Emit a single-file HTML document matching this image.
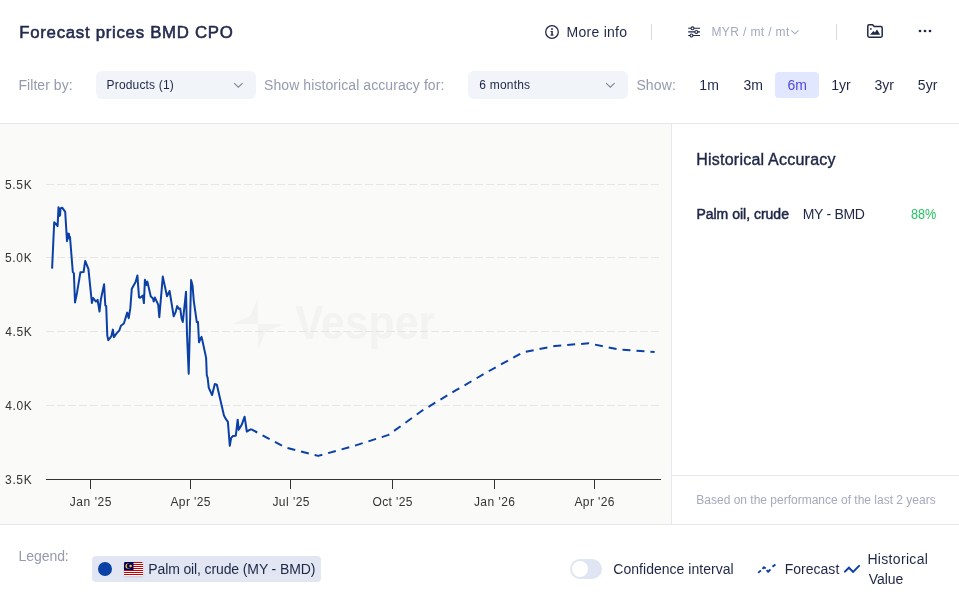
<!DOCTYPE html>
<html lang="en">
<head>
<meta charset="utf-8">
<title>Forecast prices BMD CPO</title>
<style>
html,body{margin:0;padding:0;}
body{width:959px;height:595px;position:relative;overflow:hidden;background:#ffffff;font-family:"Liberation Sans",sans-serif;}
.t{position:absolute;white-space:nowrap;line-height:1;}
.abs{position:absolute;}
.sel{position:absolute;background:#f1f4f9;border-radius:6px;}
.vdiv{position:absolute;width:1px;background:#d5d9e4;}
</style>
</head>
<body>
<!-- header -->
<div class="abs" style="left:0;top:123px;width:959px;height:1px;background:#e6e8ee;"></div>
<!-- chart area background -->
<div class="abs" style="left:0;top:124px;width:671px;height:400px;background:#fafaf8;"></div>
<div class="abs" style="left:671px;top:124px;width:1px;height:400px;background:#e6e8ee;"></div>
<div class="abs" style="left:672px;top:475px;width:287px;height:1px;background:#e6e8ee;"></div>
<div class="abs" style="left:0;top:524px;width:959px;height:1px;background:#e6e8ee;"></div>

<!-- selects -->
<div class="sel" style="left:96px;top:71px;width:160px;height:28px;"></div>
<div class="sel" style="left:468px;top:71px;width:160px;height:28px;"></div>
<svg class="abs" style="left:232px;top:80px;" width="12" height="12" viewBox="0 0 12 12"><path d="M2.1 3.1 L6.35 7.2 L10.6 3.1" fill="none" stroke="#7e8499" stroke-width="1.1"/></svg>
<svg class="abs" style="left:604px;top:80px;" width="12" height="12" viewBox="0 0 12 12"><path d="M2.1 3.1 L6.35 7.2 L10.6 3.1" fill="none" stroke="#7e8499" stroke-width="1.1"/></svg>
<!-- active range button -->
<div class="abs" style="left:775px;top:72px;width:44px;height:26px;background:#e0e7ff;border-radius:4px;"></div>

<!-- header icons -->
<svg class="abs" style="left:544px;top:24px;" width="16" height="16" viewBox="0 0 16 16"><circle cx="8" cy="8" r="6.3" fill="none" stroke="#1f2747" stroke-width="1.3"/><rect x="7.3" y="7" width="1.5" height="4.2" fill="#1f2747"/><rect x="6.6" y="7" width="1.6" height="1" fill="#1f2747"/><rect x="6.4" y="10.6" width="3.2" height="1" fill="#1f2747"/><circle cx="8" cy="5" r="0.95" fill="#1f2747"/></svg>
<div class="vdiv" style="left:651px;top:24px;height:16px;"></div>
<svg class="abs" style="left:686px;top:25px;" width="15" height="14" viewBox="0 0 15 14"><g fill="none" stroke="#1f2747" stroke-width="1.1"><path d="M2.2 3.3H14M2.2 6.9H14M2.2 10.5H14"/><circle cx="6.5" cy="3.3" r="1.45" fill="#fff"/><circle cx="10.3" cy="6.9" r="1.45" fill="#fff"/><circle cx="5.5" cy="10.5" r="1.45" fill="#fff"/></g></svg>
<svg class="abs" style="left:790px;top:27px;" width="10" height="10" viewBox="0 0 10 10"><path d="M1.3 3.3 L4.9 6.8 L8.5 3.3" fill="none" stroke="#a3a9be" stroke-width="1.1"/></svg>
<div class="vdiv" style="left:836px;top:24px;height:16px;"></div>
<svg class="abs" style="left:866px;top:23px;" width="18" height="16" viewBox="0 0 18 16"><path d="M1.8 3.2 Q1.8 1.8 3.2 1.8 H6.6 L8.2 3.6 H14.8 Q16.2 3.6 16.2 5 V12.8 Q16.2 14.2 14.8 14.2 H3.2 Q1.8 14.2 1.8 12.8 Z" fill="none" stroke="#1f2747" stroke-width="1.5" stroke-linejoin="round"/><path d="M4 11.8 L7.4 8 L8.9 9.6 L11 6.4 L14.2 11.8 Z" fill="#1f2747"/><circle cx="4.9" cy="5.9" r="0.85" fill="#1f2747"/></svg>
<svg class="abs" style="left:917px;top:28px;" width="16" height="6" viewBox="0 0 16 6"><circle cx="3" cy="3" r="1.35" fill="#1f2747"/><circle cx="8" cy="3" r="1.35" fill="#1f2747"/><circle cx="13" cy="3" r="1.35" fill="#1f2747"/></svg>

<!-- chart -->
<span id="wm" class="t" style="left:295.00px;top:298.00px;font-size:49px;font-weight:700;color:#f3f3f1;letter-spacing:0.000px;transform:scaleX(0.8710);transform-origin:0 0;">Vesper</span>
<svg class="abs" style="left:0;top:124px;" width="671" height="400" viewBox="0 124 671 400">
<path d="M257.8 298.5 L250.3 315.9 L232.6 323.9 L258 323.9 Z M258 324 L283.2 324 L265.6 331.8 L258.2 349.4 Z" fill="#f3f3f1"/>
<path d="M46 184.5 H659" stroke="#e6e6e6" stroke-width="1" stroke-dasharray="8 3" fill="none"/>
<path d="M46 257.5 H659" stroke="#e6e6e6" stroke-width="1" stroke-dasharray="8 3" fill="none"/>
<path d="M46 331.5 H659" stroke="#e6e6e6" stroke-width="1" stroke-dasharray="8 3" fill="none"/>
<path d="M46 405.5 H659" stroke="#e6e6e6" stroke-width="1" stroke-dasharray="8 3" fill="none"/>
<path d="M46 479.5 H661" stroke="#333333" stroke-width="1" fill="none"/>
<path d="M90.5 479 V489" stroke="#333333" stroke-width="1" fill="none"/>
<path d="M190.5 479 V489" stroke="#333333" stroke-width="1" fill="none"/>
<path d="M290.5 479 V489" stroke="#333333" stroke-width="1" fill="none"/>
<path d="M392.5 479 V489" stroke="#333333" stroke-width="1" fill="none"/>
<path d="M494.5 479 V489" stroke="#333333" stroke-width="1" fill="none"/>
<path d="M594.5 479 V489" stroke="#333333" stroke-width="1" fill="none"/>
<polyline points="52.1,268.6 54.2,222.3 57.6,226 58.5,207.2 59.5,216 60.1,215.1 60.5,208.4 62.2,207.7 65.2,211.8 67,241.2 68.1,233.6 69,234 69.4,238.7 70,237 72.8,272 73.9,273.4 75,302.5 77.1,292.2 80.4,272.3 83.6,272 85.2,261 88.4,268.8 91.9,303 93,298 96,301.6 97.6,299.8 99.5,311.6 100.8,299.8 104.1,284.2 105.3,305.4 106.2,306.1 107.3,335.6 108.3,340.2 111.3,336.4 112.9,329.6 113.9,337.2 116.6,333.4 119.4,330.3 120.9,325.8 123.9,323.5 127.2,312.6 128.7,318.2 130.3,308.4 131.8,288.7 135.6,281.9 137.4,275.4 139,297.1 140.1,297.8 142.8,295.6 143.9,303.1 144.9,279.7 146.4,285 147.4,281.6 150.7,296.3 153,298.6 153.7,301.6 154.8,297.5 158.2,304.6 159.3,317.2 162.8,276.6 167,296.3 169.6,291 173.7,316.3 175.6,312.2 177.2,306.1 178.7,308.7 180.2,308.4 181.7,319 182.8,322 186,291.8 187,333.9 188.7,373.8 191.1,280.1 192.6,286 193.8,301.1 196.8,322.1 198,322.1 199,342.3 200.5,338.6 201.5,336.9 202.4,340.6 206.1,357.6 206.8,375.2 207.6,377.7 208.8,387.8 212.1,395 214.8,384 216.8,384.6 223.9,415.2 225.3,418.1 227.9,421.9 229.8,445.8 231.1,438.2 232.8,436.1 235.8,435.7 237.7,419.7 238.7,429.8 241.7,424.8 244.6,416.7 246.8,431.5 251.1,429.2" fill="none" stroke="#0b40a7" stroke-width="2" stroke-linejoin="round" stroke-linecap="butt"/>
<polyline points="251.1,429.2 285,447.3 318.3,455.9 355,445.6 388.6,434.9 422.6,410.3 456,390.2 490,370.5 522.7,352.4 555,345.9 588.7,343.3 617.5,349.3 654.6,352.1" fill="none" stroke="#0b40a7" stroke-width="2" stroke-dasharray="8 6" stroke-dashoffset="1" stroke-linejoin="round"/>
</svg>

<!-- legend chip -->
<div class="abs" style="left:92px;top:556px;width:229px;height:26px;background:#e1e6f2;border-radius:4px;"></div>
<div class="abs" style="left:98px;top:562px;width:14px;height:14px;border-radius:50%;background:#0b40a7;"></div>
<svg class="abs" style="left:124px;top:562px;border-radius:1.5px;box-shadow:0 1px 2px rgba(60,70,100,0.18);" width="19" height="14" viewBox="0 0 19 14">
<rect width="19" height="14" fill="#fff"/>
<g fill="#cc0001"><rect y="0" width="19" height="1"/><rect y="2" width="19" height="1"/><rect y="4" width="19" height="1"/><rect y="6" width="19" height="1"/><rect y="8" width="19" height="1"/><rect y="10" width="19" height="1"/><rect y="12" width="19" height="1"/></g>
<rect width="9.5" height="8" fill="#010066"/>
<circle cx="4" cy="4" r="2.6" fill="#ffcc00"/><circle cx="4.9" cy="4" r="2.2" fill="#010066"/>
<circle cx="6.6" cy="4" r="1.3" fill="#ffcc00"/>
</svg>

<!-- toggle -->
<div class="abs" style="left:570px;top:559px;width:32px;height:20px;border-radius:10px;background:#dfe5f2;"></div>
<div class="abs" style="left:572px;top:561px;width:16px;height:16px;border-radius:50%;background:#ffffff;"></div>

<!-- forecast / historical icons -->
<svg class="abs" style="left:752px;top:556px;" width="30" height="26" viewBox="752 556 30 26"><g fill="none" stroke="#0b40a7" stroke-width="1.9" stroke-linecap="butt" stroke-linejoin="round"><path d="M758.2 572.9 L760.9 570.4"/><path d="M762.5 568.9 L764 567.2 L765.7 568.6"/><path d="M766.6 570.2 L768.2 571.8 L770.4 569.3"/><path d="M772.4 566.8 L775.4 564.4"/></g></svg>
<svg class="abs" style="left:838px;top:556px;" width="30" height="26" viewBox="838 556 30 26"><path d="M844.9 571.6 L848.9 567.7 L853.1 571.9 L859.1 565.9" fill="none" stroke="#0b40a7" stroke-width="2" stroke-linecap="round" stroke-linejoin="miter"/></svg>

<span id="t_title" class="t" style="left:19.29px;top:25.00px;font-size:16.8px;font-weight:400;color:#222a4e;letter-spacing:0.720px;-webkit-text-stroke:0.55px #222a4e;">Forecast prices BMD CPO</span>
<span id="t_more" class="t" style="left:566.58px;top:25.00px;font-size:14px;font-weight:400;color:#1f2747;letter-spacing:0.262px;">More info</span>
<span id="t_myr" class="t" style="left:711.50px;top:26.00px;font-size:12px;font-weight:400;color:#a3a9be;letter-spacing:0.371px;">MYR / mt / mt</span>
<span id="t_filter" class="t" style="left:18.51px;top:78.00px;font-size:14px;font-weight:400;color:#959aaf;letter-spacing:0.044px;">Filter by:</span>
<span id="t_prod" class="t" style="left:106.60px;top:79.00px;font-size:12px;font-weight:400;color:#1f2747;letter-spacing:0.166px;">Products (1)</span>
<span id="t_showh" class="t" style="left:264.08px;top:78.00px;font-size:14px;font-weight:400;color:#959aaf;letter-spacing:0.075px;">Show historical accuracy for:</span>
<span id="t_6mo" class="t" style="left:479.27px;top:79.00px;font-size:12px;font-weight:400;color:#1f2747;letter-spacing:0.210px;">6 months</span>
<span id="t_show" class="t" style="left:636.39px;top:78.00px;font-size:14px;font-weight:400;color:#959aaf;letter-spacing:0.140px;">Show:</span>
<span id="t_1m" class="t" style="left:699.37px;top:78.00px;font-size:14px;font-weight:400;color:#1f2747;letter-spacing:0.000px;">1m</span>
<span id="t_3m" class="t" style="left:743.42px;top:78.00px;font-size:14px;font-weight:400;color:#1f2747;letter-spacing:0.000px;">3m</span>
<span id="t_6m" class="t" style="left:787.42px;top:78.00px;font-size:14px;font-weight:400;color:#5046e5;letter-spacing:0.000px;">6m</span>
<span id="t_1yr" class="t" style="left:831.32px;top:78.00px;font-size:14px;font-weight:400;color:#1f2747;letter-spacing:0.000px;">1yr</span>
<span id="t_3yr" class="t" style="left:874.42px;top:78.00px;font-size:14px;font-weight:400;color:#1f2747;letter-spacing:0.000px;">3yr</span>
<span id="t_5yr" class="t" style="left:917.87px;top:78.00px;font-size:14px;font-weight:400;color:#1f2747;letter-spacing:0.000px;">5yr</span>
<span id="t_ha" class="t" style="left:696.26px;top:152.00px;font-size:16px;font-weight:400;color:#1f2747;letter-spacing:0.227px;-webkit-text-stroke:0.4px #1f2747;">Historical Accuracy</span>
<span id="t_palm" class="t" style="left:696.38px;top:207.00px;font-size:14px;font-weight:400;color:#1f2747;letter-spacing:-0.004px;-webkit-text-stroke:0.5px #1f2747;">Palm oil, crude</span>
<span id="t_mybmd" class="t" style="left:802.74px;top:207.00px;font-size:14px;font-weight:400;color:#1f2747;letter-spacing:-0.309px;">MY - BMD</span>
<span id="t_88" class="t" style="left:911.40px;top:207.00px;font-size:14px;font-weight:400;color:#27c461;letter-spacing:0.000px;transform:scaleX(0.9026);transform-origin:0 0;">88%</span>
<span id="t_based" class="t" style="left:696.34px;top:494.00px;font-size:12px;font-weight:400;color:#a5aabb;letter-spacing:-0.003px;">Based on the performance of the last 2 years</span>
<span id="t_legend" class="t" style="left:18.51px;top:549.00px;font-size:14px;font-weight:400;color:#959aaf;letter-spacing:-0.060px;">Legend:</span>
<span id="t_chip" class="t" style="left:148.27px;top:562.00px;font-size:14px;font-weight:400;color:#1f2747;letter-spacing:-0.122px;">Palm oil, crude (MY - BMD)</span>
<span id="t_conf" class="t" style="left:613.36px;top:562.00px;font-size:14px;font-weight:400;color:#1f2747;letter-spacing:0.021px;">Confidence interval</span>
<span id="t_fore" class="t" style="left:784.74px;top:562.00px;font-size:14px;font-weight:400;color:#1f2747;letter-spacing:0.010px;">Forecast</span>
<span id="t_hist" class="t" style="left:867.43px;top:552.00px;font-size:14px;font-weight:400;color:#1f2747;letter-spacing:0.320px;">Historical</span>
<span id="t_val" class="t" style="left:868.66px;top:572.00px;font-size:14px;font-weight:400;color:#1f2747;letter-spacing:-0.034px;">Value</span>
<span id="y55" class="t" style="left:5.00px;top:179.00px;font-size:12px;font-weight:400;color:#333333;letter-spacing:0.666px;">5.5K</span>
<span id="y50" class="t" style="left:5.00px;top:252.00px;font-size:12px;font-weight:400;color:#333333;letter-spacing:0.666px;">5.0K</span>
<span id="y45" class="t" style="left:5.33px;top:326.00px;font-size:12px;font-weight:400;color:#333333;letter-spacing:0.556px;">4.5K</span>
<span id="y40" class="t" style="left:5.33px;top:400.00px;font-size:12px;font-weight:400;color:#333333;letter-spacing:0.556px;">4.0K</span>
<span id="y35" class="t" style="left:5.12px;top:474.00px;font-size:12px;font-weight:400;color:#333333;letter-spacing:0.625px;">3.5K</span>
<span id="xj25" class="t" style="left:69.69px;top:496.00px;font-size:12px;font-weight:400;color:#333333;letter-spacing:0.567px;">Jan '25</span>
<span id="xa25" class="t" style="left:170.47px;top:496.00px;font-size:12px;font-weight:400;color:#333333;letter-spacing:0.384px;">Apr '25</span>
<span id="xl25" class="t" style="left:272.40px;top:496.00px;font-size:12px;font-weight:400;color:#333333;letter-spacing:0.456px;">Jul '25</span>
<span id="xo25" class="t" style="left:372.49px;top:496.00px;font-size:12px;font-weight:400;color:#333333;letter-spacing:0.401px;">Oct '25</span>
<span id="xj26" class="t" style="left:473.91px;top:496.00px;font-size:12px;font-weight:400;color:#333333;letter-spacing:0.465px;">Jan '26</span>
<span id="xa26" class="t" style="left:574.47px;top:496.00px;font-size:12px;font-weight:400;color:#333333;letter-spacing:0.394px;">Apr '26</span>
</body>
</html>
